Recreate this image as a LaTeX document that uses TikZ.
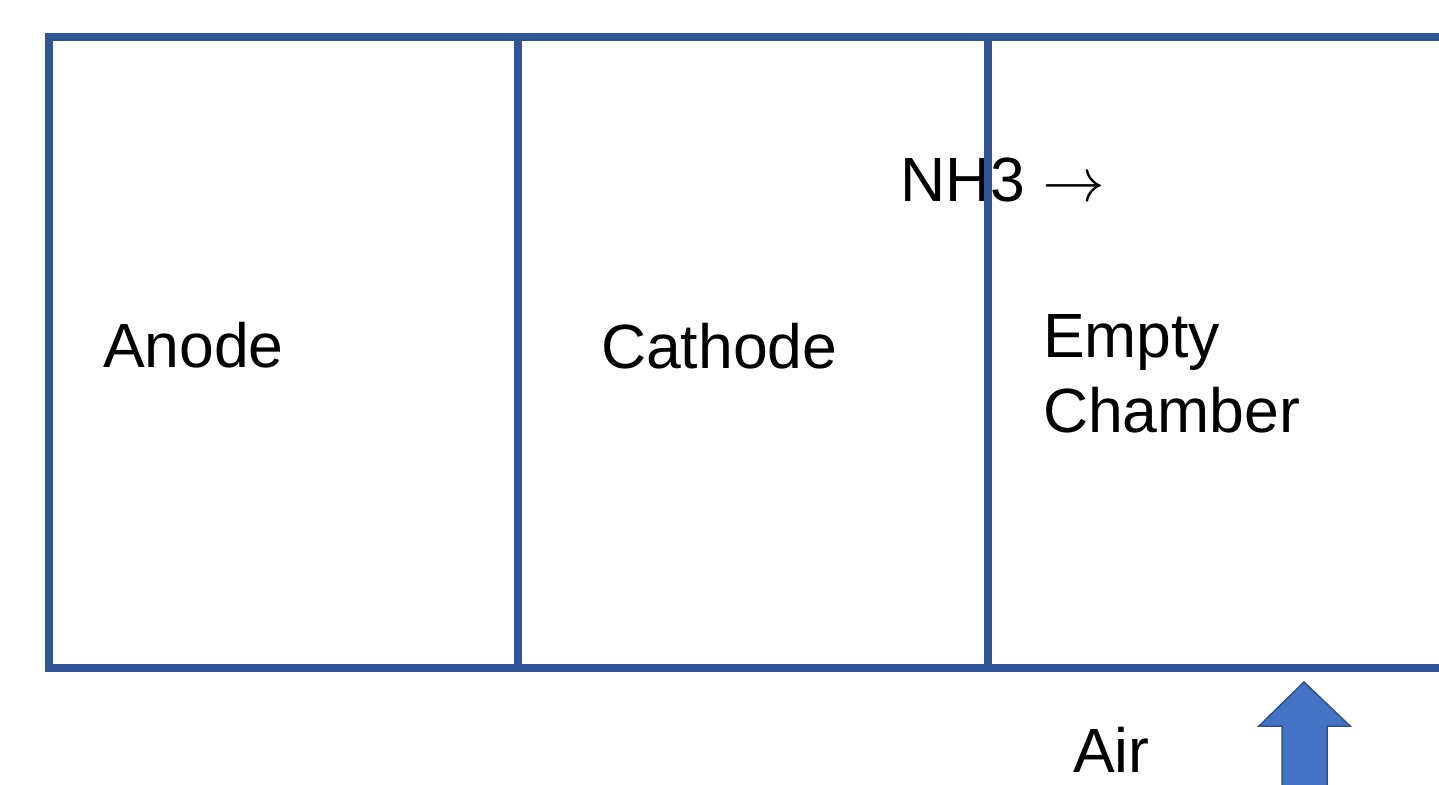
\documentclass[tikz,border=0pt]{standalone}
\usepackage{fontspec}
\setmainfont{Liberation Sans}
\newfontfamily\arrowfont{latinmodern-math.otf}
\definecolor{frameblue}{RGB}{47,85,151}
\definecolor{arrowfill}{RGB}{68,114,196}
\definecolor{arrowline}{RGB}{47,82,143}
\tikzset{
  wall/.style={draw=frameblue, line width=8pt},
  lbl/.style={anchor=base west, inner sep=0pt, outer sep=0pt, font=\fontsize{62.5}{75}\selectfont, text=black},
  blockarrow/.style={fill=arrowfill, draw=arrowline, line width=1.5pt, line join=miter}
}
\begin{document}
\begin{tikzpicture}[x=1pt,y=-1pt]
\useasboundingbox (0,0) rectangle (1439,784);
\clip (0,0) rectangle (1439,784);
% frame
\coordinate (tl) at (49,37);
\coordinate (bl) at (49,668);
\coordinate (tr) at (1450,37);
\coordinate (br) at (1450,668);
\coordinate (d1t) at (518,37);
\coordinate (d1b) at (518,668);
\coordinate (d2t) at (988,37);
\coordinate (d2b) at (988,668);
\draw[wall, line cap=rect] (tr) -- (tl) -- (bl) -- (br);
\draw[wall] (d1t) -- (d1b);
% labels
\node[lbl] (anode) at (103,367) {Anode};
\node[lbl] (cathode) at (601,368) {Cathode};
\node[lbl] (nh3) at (900,201) {NH3 {\arrowfont →}};
\draw[wall] (d2t) -- (d2b);
\node[lbl, align=left] (empty) at (1043,432) {Empty\\Chamber};
\node[lbl] (air) at (1073,772) {Air};
% block arrow
\draw[blockarrow] (1304,682) -- (1350,726) -- (1327,726) -- (1327,800) -- (1282,800) -- (1282,726) -- (1259,726) -- cycle;
\end{tikzpicture}
\end{document}
